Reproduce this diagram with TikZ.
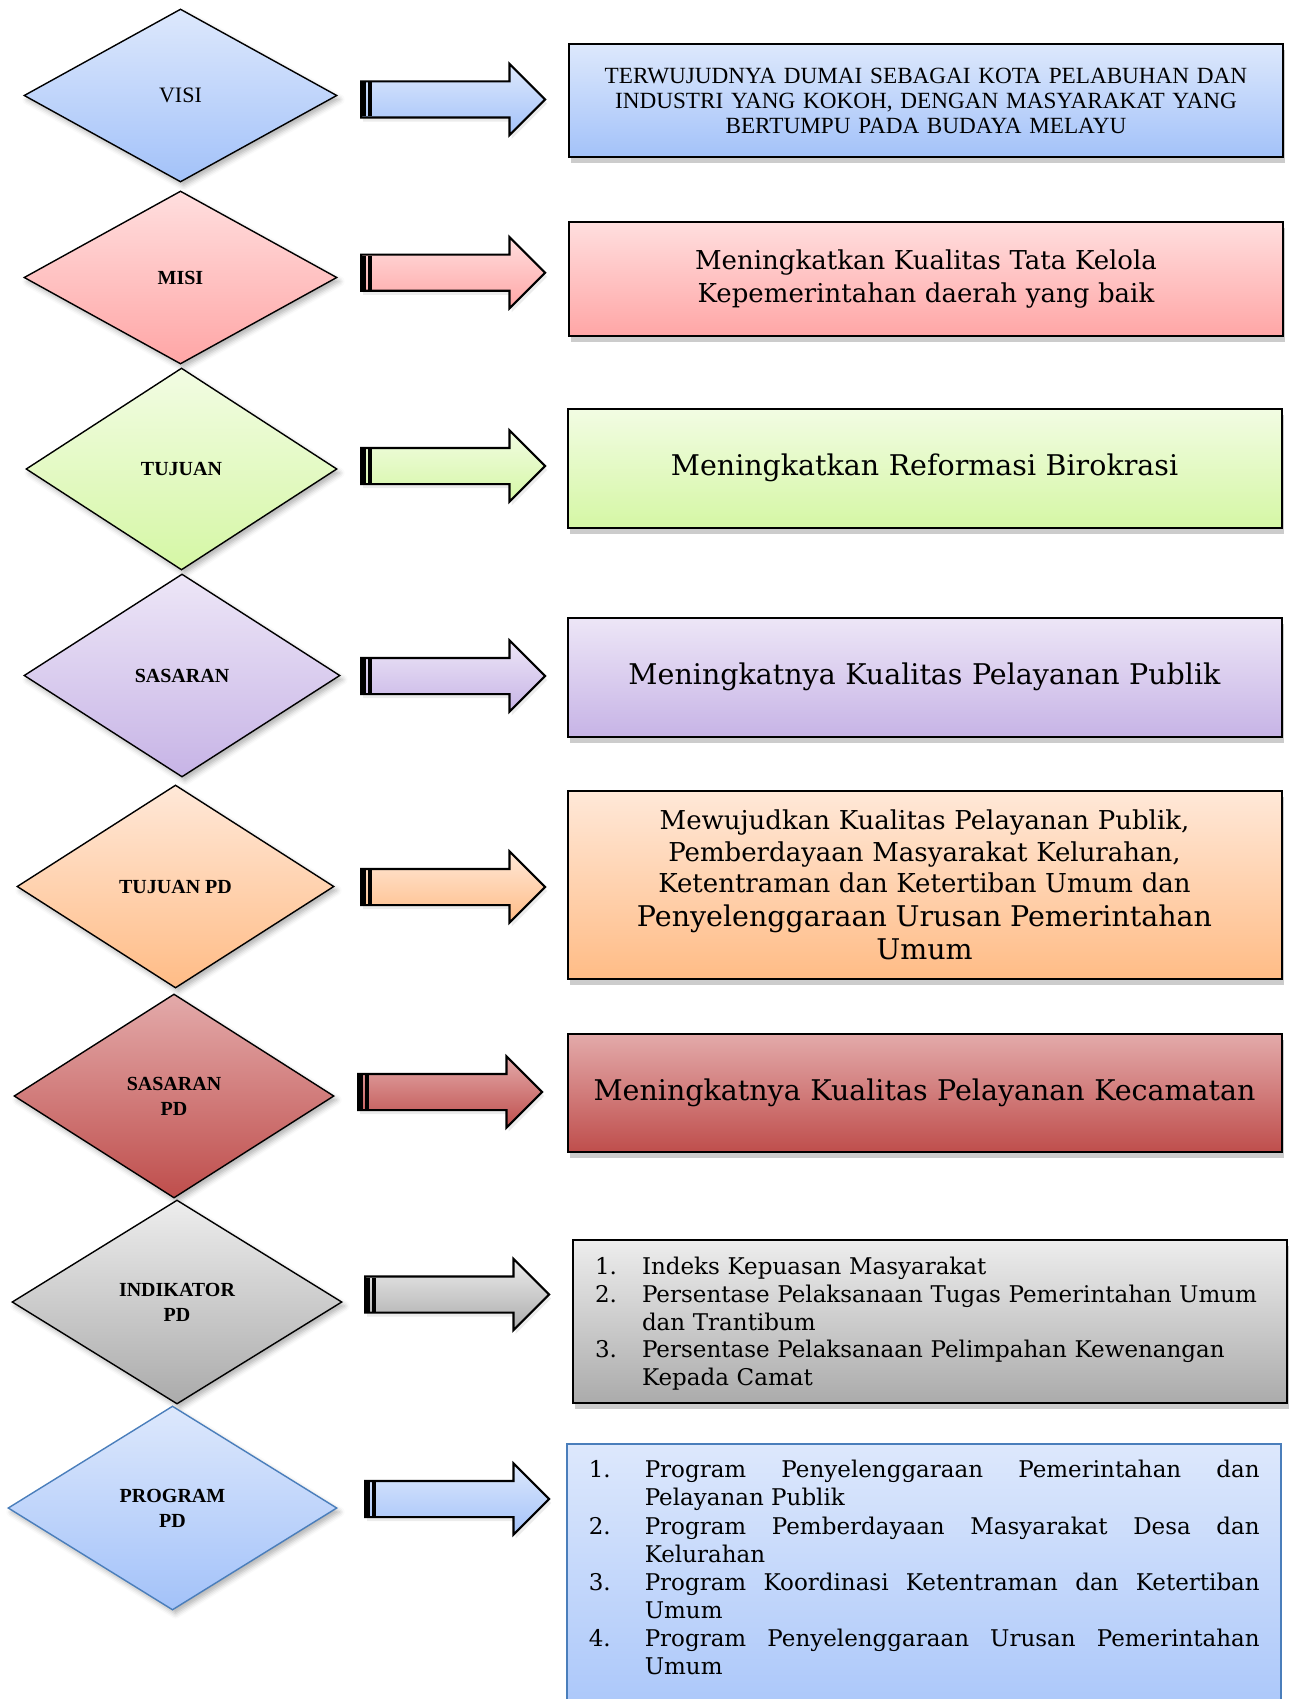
\documentclass[tikz,border=0pt]{standalone}
\usepackage{fontspec}
\setmainfont{DejaVu Serif}
\newfontfamily\timesfont{Liberation Serif}
\usepackage{enumitem}
\usetikzlibrary{shapes.geometric,shapes.arrows,shadows,shadows.blur}

\definecolor{blueTop}{HTML}{DDE8FC}
\definecolor{blueBottom}{HTML}{A3C2F9}
\definecolor{pinkTop}{HTML}{FFDEDE}
\definecolor{pinkBottom}{HTML}{FFA6A6}
\definecolor{greenTop}{HTML}{F2FCE3}
\definecolor{greenBottom}{HTML}{D5F7A5}
\definecolor{purpleTop}{HTML}{EDE6F7}
\definecolor{purpleBottom}{HTML}{C7B4E6}
\definecolor{orangeTop}{HTML}{FFE8D8}
\definecolor{orangeBottom}{HTML}{FFBC86}
\definecolor{redTop}{HTML}{E3AAAA}
\definecolor{redBottom}{HTML}{BF4E4C}
\definecolor{greyTop}{HTML}{EDEDED}
\definecolor{greyBottom}{HTML}{ABABAB}
\definecolor{programLine}{HTML}{4A7EBB}

\setlist[enumerate]{label=\arabic*., align=left, topsep=0pt, partopsep=0pt, itemsep=0pt, parsep=0pt}

% the double bar at the back of every block arrow
\newcommand{\tailbars}[1]{%
  \fill (#1.tail) ++(0,-17) rectangle ++(6,34);
  \fill (#1.tail) ++(8,-17) rectangle ++(4,34);}

\tikzset{
  stage/.style={diamond, draw, line width=1.4pt, inner sep=0pt, align=center,
    font=\timesfont\bfseries\fontsize{20}{25}\selectfont,
    blur shadow={shadow xshift=3pt, shadow yshift=-4pt, shadow blur radius=5pt, shadow opacity=30}},
  infobox/.style={rectangle, draw, line width=2pt, inner xsep=12pt, inner ysep=0pt,
    minimum width=714pt, text width=690pt, align=center},
  boxshadow/.style={drop shadow={shadow xshift=2pt, shadow yshift=-6pt, opacity=.4}},
  blockarrow/.style={single arrow, draw, line width=2.2pt, inner xsep=0pt, inner ysep=17pt,
    single arrow head extend=17.5pt, minimum height=184pt, anchor=tail,
    drop shadow={shadow xshift=2pt, shadow yshift=-4pt, opacity=.15}},
  blueFill/.style={top color=blueTop, bottom color=blueBottom},
  pinkFill/.style={top color=pinkTop, bottom color=pinkBottom},
  greenFill/.style={top color=greenTop, bottom color=greenBottom},
  purpleFill/.style={top color=purpleTop, bottom color=purpleBottom},
  orangeFill/.style={top color=orangeTop, bottom color=orangeBottom},
  redFill/.style={top color=redTop, bottom color=redBottom},
  greyFill/.style={top color=greyTop, bottom color=greyBottom},
}

\begin{document}
\begin{tikzpicture}[x=1pt,y=-1pt]
\useasboundingbox (0,0) rectangle (1288,1699);

% left column
\node[stage, blueFill, minimum width=313pt, minimum height=173pt,
  font=\timesfont\fontsize{22}{25}\selectfont] (visi) at (180.5,95.5) {VISI};
\node[stage, pinkFill, minimum width=313pt, minimum height=173pt] (misi) at (180.5,277.5) {MISI};
\node[stage, greenFill, minimum width=311pt, minimum height=202pt] (tujuan) at (181.5,469) {TUJUAN};
\node[stage, purpleFill, minimum width=316pt, minimum height=203pt] (sasaran) at (182,675.5) {SASARAN};
\node[stage, orangeFill, minimum width=317pt, minimum height=203pt] (tujuanpd) at (175.5,886.5) {TUJUAN PD};
\node[stage, redFill, minimum width=320pt, minimum height=204pt] (sasaranpd) at (174,1096) {SASARAN\\PD};
\node[stage, greyFill, minimum width=330pt, minimum height=204pt] (indikatorpd) at (177,1302) {INDIKATOR\\PD};
\node[stage, blueFill, draw=programLine, minimum width=329pt, minimum height=204pt] (programpd) at (172.5,1508) {PROGRAM\\PD};

% arrows
\node[blockarrow, blueFill] (a1) at (360,99.5) {};
\tailbars{a1}
\node[blockarrow, pinkFill] (a2) at (360,272.7) {};
\tailbars{a2}
\node[blockarrow, greenFill] (a3) at (360,466) {};
\tailbars{a3}
\node[blockarrow, purpleFill] (a4) at (360,676) {};
\tailbars{a4}
\node[blockarrow, orangeFill] (a5) at (360,887) {};
\tailbars{a5}
\node[blockarrow, redFill] (a6) at (357,1092) {};
\tailbars{a6}
\node[blockarrow, greyFill] (a7) at (364,1294.5) {};
\tailbars{a7}
\node[blockarrow, blueFill] (a8) at (364,1499) {};
\tailbars{a8}

% right column
\node[infobox, boxshadow, blueFill, minimum height=113pt,
  font=\timesfont\fontsize{23.2}{25}\selectfont] (visitext) at (926,100.5)
  {TERWUJUDNYA DUMAI SEBAGAI KOTA PELABUHAN DAN\\
   INDUSTRI YANG KOKOH, DENGAN MASYARAKAT YANG\\
   BERTUMPU PADA BUDAYA MELAYU};
\node[infobox, boxshadow, pinkFill, minimum height=114pt,
  font=\fontsize{26}{33.6}\selectfont] (misitext) at (926,279)
  {Meningkatkan Kualitas Tata Kelola\\ Kepemerintahan daerah yang baik};
\node[infobox, boxshadow, greenFill, minimum height=119pt,
  font=\fontsize{28.5}{34}\selectfont] (tujuantext) at (924.5,468)
  {Meningkatkan Reformasi Birokrasi};
\node[infobox, boxshadow, purpleFill, minimum height=119pt,
  font=\fontsize{28.5}{34}\selectfont] (sasarantext) at (924.5,677)
  {Meningkatnya Kualitas Pelayanan Publik};
\node[infobox, boxshadow, orangeFill, minimum height=188pt,
  font=\fontsize{26}{31.5}\selectfont] (tujuanpdtext) at (924.5,885)
  {Mewujudkan Kualitas Pelayanan Publik,\\
   Pemberdayaan Masyarakat Kelurahan,\\
   Ketentraman dan Ketertiban Umum dan\par
   {\fontsize{28.5}{33.5}\selectfont Penyelenggaraan Urusan Pemerintahan\\ Umum\par}};
\node[infobox, boxshadow, redFill, minimum height=118pt,
  font=\fontsize{28.5}{34}\selectfont] (sasaranpdtext) at (924.5,1093)
  {Meningkatnya Kualitas Pelayanan Kecamatan};
\node[infobox, boxshadow, greyFill, minimum height=163pt, inner xsep=14.5pt, text width=685pt,
  align=left, font=\fontsize{23}{27.8}\selectfont] (indikatortext) at (930,1321.5)
  {\vspace{-6pt}
   \begin{enumerate}[labelindent=7.5pt, leftmargin=54.5pt, labelwidth=40pt, labelsep=7pt]
   \item Indeks Kepuasan Masyarakat
   \item Persentase Pelaksanaan Tugas Pemerintahan Umum\newline dan Trantibum
   \item Persentase Pelaksanaan Pelimpahan Kewenangan\newline Kepada Camat
   \end{enumerate}};
\node[infobox, blueFill, draw=programLine, line width=1.5pt, anchor=north west,
  inner xsep=21pt, inner ysep=6pt, text width=672pt, align=justify,
  font=\fontsize{23}{28.1}\selectfont] (programtext) at (566,1443)
  {\begin{enumerate}[labelindent=1pt, leftmargin=57pt, labelwidth=50pt, labelsep=6pt]
   \item Program Penyelenggaraan Pemerintahan dan\linebreak Pelayanan Publik
   \item Program Pemberdayaan Masyarakat Desa dan\linebreak Kelurahan
   \item Program Koordinasi Ketentraman dan Ketertiban\linebreak Umum
   \item Program Penyelenggaraan Urusan Pemerintahan\linebreak Umum
   \end{enumerate}\par\rule{0pt}{70pt}};
\end{tikzpicture}
\end{document}
